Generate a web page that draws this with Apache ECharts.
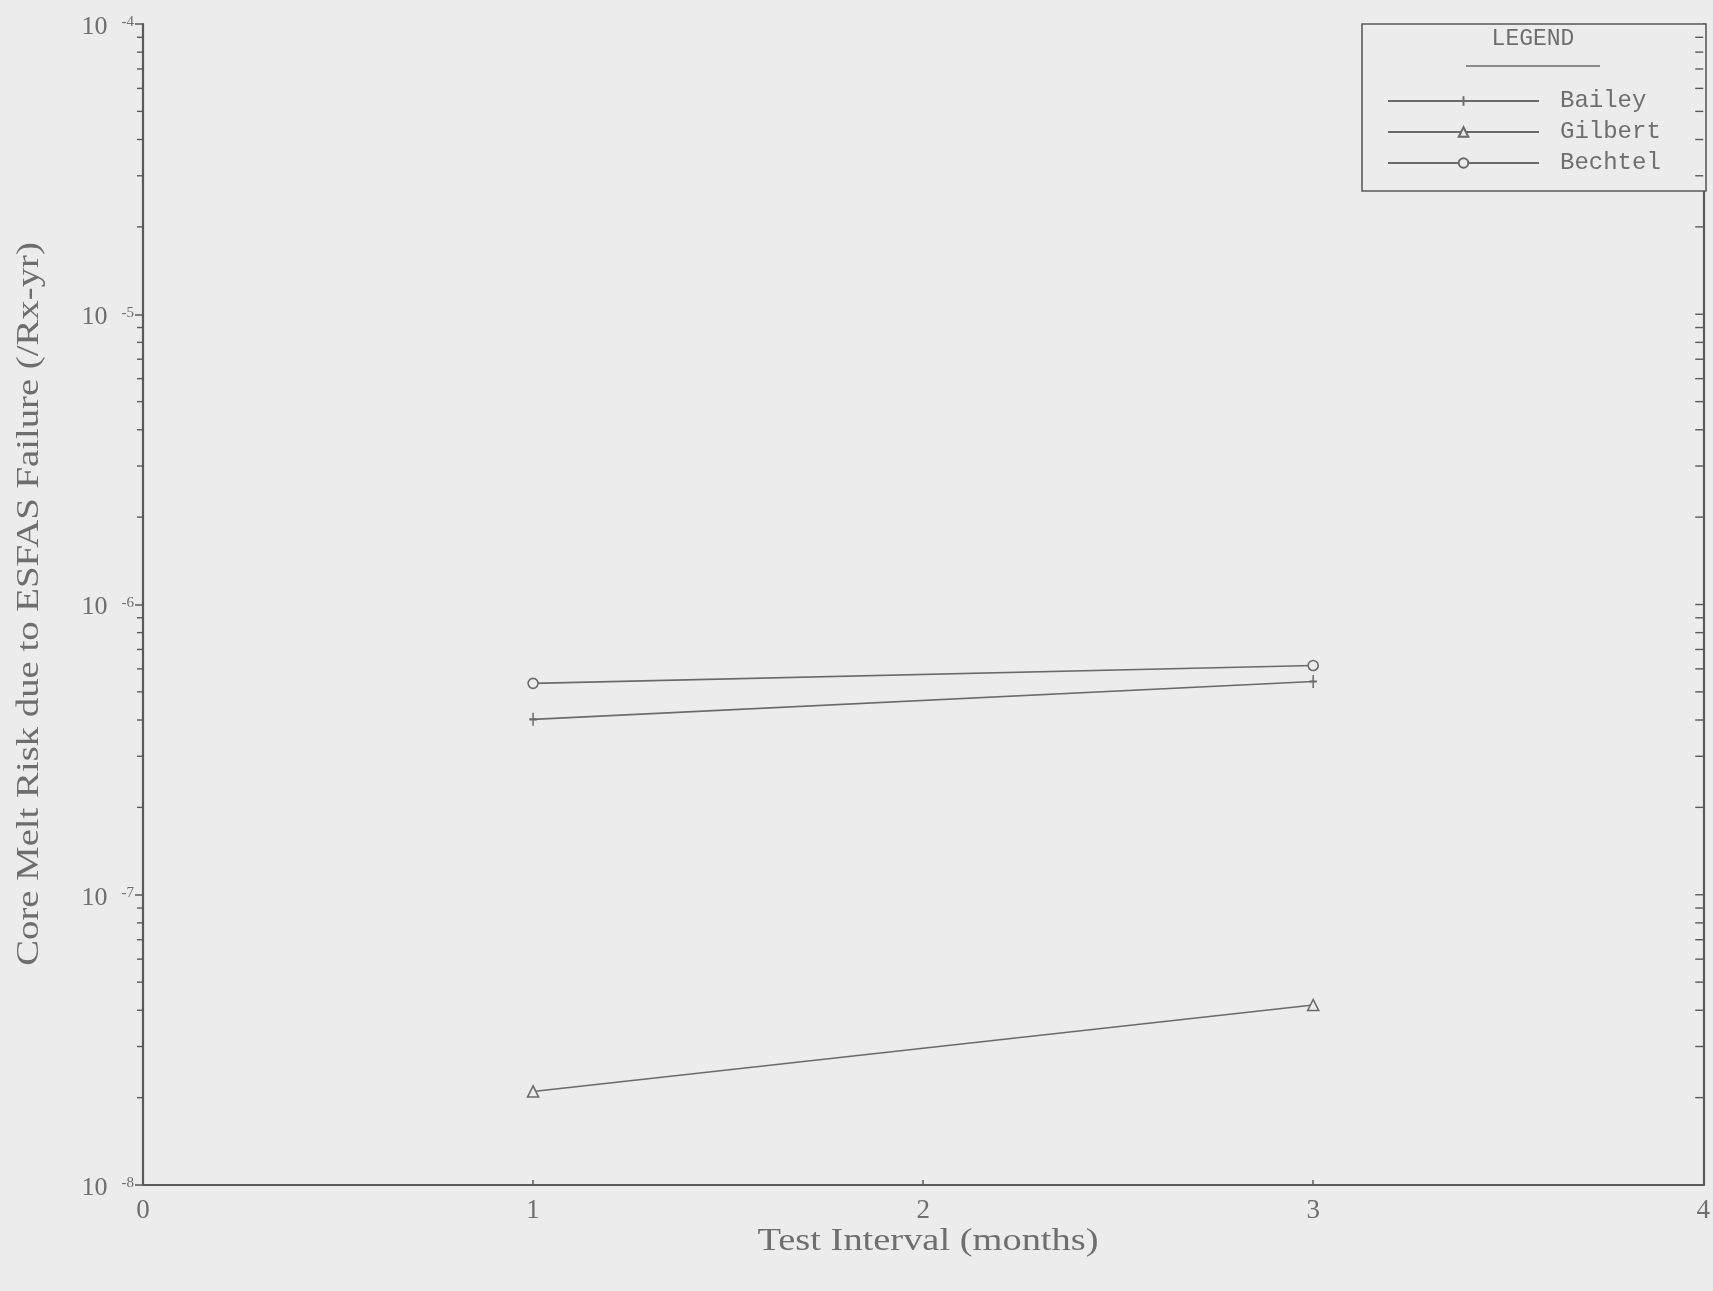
<!DOCTYPE html>
<html>
<head>
<meta charset="utf-8">
<script src="https://cdn.jsdelivr.net/npm/echarts@6/dist/echarts.min.js"></script>
<style>
  html, body { margin: 0; padding: 0; background: #ececec; }
  #chart { width: 1713px; height: 1291px; }
</style>
</head>
<body>
<div id="chart"></div>
<script>
// Test interval (months) and core melt risk per reactor-year
const intervals = [1, 3];
const bailey   = [4.02e-7, 5.43e-7];
const gilbert  = [2.10e-8, 4.17e-8];
const bechtel  = [5.35e-7, 6.16e-7];
const seriesNames = ['Bailey', 'Gilbert', 'Bechtel'];
const xTicks = [0, 1, 2, 3, 4];
const yDecades = [1e-8, 1e-7, 1e-6, 1e-5, 1e-4];
const xTitle = 'Test Interval (months)';
const yTitle = 'Core Melt Risk due to ESFAS Failure (/Rx-yr)';

const BG = '#ececec';
const INK = '#6a6a6a';
const AXIS = '#5a5a5a';
const TEXT = '#6e6e6e';
const SERIF = '"Liberation Serif", "DejaVu Serif", serif';
const MONO = '"Liberation Mono", "DejaVu Sans Mono", monospace';

// minor log ticks (2..9 within each decade), on both vertical edges
const minorTicks = [];
for (let d = 0; d < yDecades.length - 1; d++) {
  for (let k = 2; k <= 9; k++) {
    const v = k * yDecades[d];
    minorTicks.push([0, v]);
    minorTicks.push([4, v]);
  }
}
// right-edge major ticks
for (let d = 1; d < yDecades.length - 1; d++) minorTicks.push([4, yDecades[d], 1]);

function pairs(vals) { return intervals.map((x, i) => [x, vals[i]]); }

const chart = echarts.init(document.getElementById('chart'), null, { renderer: 'canvas' });

const lineBase = {
  type: 'line',
  symbolKeepAspect: true,
  lineStyle: { color: INK, width: 1.6 },
  z: 3
};

chart.setOption({
  backgroundColor: BG,
  animation: false,
  grid: { left: 143, right: 7, top: 24, bottom: 106, containLabel: false },
  xAxis: {
    type: 'value',
    min: 0, max: 4, interval: 1,
    axisLine: { show: true, onZero: false, lineStyle: { color: AXIS, width: 2.2 } },
    axisTick: { show: true, inside: true, length: 5, lineStyle: { color: AXIS, width: 1.5 } },
    axisLabel: {
      margin: 12, fontFamily: SERIF, fontSize: 27, color: TEXT,
      formatter: v => xTicks.indexOf(v) >= 0 ? String(v) : ''
    },
    splitLine: { show: false }
  },
  yAxis: [{
    type: 'log',
    logBase: 10,
    min: 1e-8, max: 1e-4,
    axisLine: { show: true, onZero: false, lineStyle: { color: AXIS, width: 2.2 } },
    axisTick: { show: true, inside: false, length: 8, lineStyle: { color: AXIS, width: 1.5 } },
    axisLabel: {
      margin: 9,
      formatter: v => '{b|10}{s|' + Math.round(Math.log10(v)) + '}',
      rich: {
        b: { fontFamily: SERIF, fontSize: 26, color: TEXT, lineHeight: 26, padding: [6, 14, 0, 0] },
        s: { fontFamily: SERIF, fontSize: 15, color: TEXT, lineHeight: 15, padding: [4, 0, 0, 0], verticalAlign: 'top' }
      }
    },
    splitLine: { show: false }
  }, {
    type: 'log',
    logBase: 10,
    min: 1e-8, max: 1e-4,
    position: 'right',
    axisLine: { show: true, onZero: false, lineStyle: { color: AXIS, width: 2.2 } },
    axisTick: { show: false },
    axisLabel: { show: false },
    splitLine: { show: false }
  }],
  legend: {
    data: seriesNames,
    orient: 'vertical',
    left: 1382,
    top: 84,
    itemWidth: 151,
    itemHeight: 12,
    itemGap: 7,
    textStyle: { fontFamily: MONO, fontSize: 24, color: TEXT, padding: [0, 0, 0, 16], lineHeight: 24 }
  },
  graphic: [
    {
      type: 'rect', z: 1,
      shape: { x: 1362, y: 24, width: 344, height: 167 },
      style: { fill: BG, stroke: AXIS, lineWidth: 1.6 }
    },
    {
      type: 'text', z: 2,
      x: 1533, y: 39,
      style: { text: 'LEGEND', font: '23px ' + MONO, fill: TEXT, align: 'center', verticalAlign: 'middle' }
    },
    {
      type: 'line', z: 2,
      shape: { x1: 1466, y1: 66, x2: 1600, y2: 66 },
      style: { stroke: INK, lineWidth: 1.5 }
    },
    {
      // x-axis title, set in a wide serif
      type: 'text', z: 2,
      x: 928, y: 1242, scaleX: 1.24,
      style: { text: xTitle, font: '31px ' + SERIF, fill: TEXT, align: 'center', verticalAlign: 'middle' }
    },
    {
      // y-axis title, rotated and widened along its length
      type: 'text', z: 2,
      x: 30, y: 604, rotation: Math.PI / 2, scaleX: 1.25,
      style: { text: yTitle, font: '31px ' + SERIF, fill: TEXT, align: 'center', verticalAlign: 'middle' }
    }
  ],
  series: [
    Object.assign({}, lineBase, {
      name: 'Bailey',
      data: pairs(bailey),
      symbol: 'path://M4,0L6,0L6,5L10,5L10,7L6,7L6,12L4,12L4,7L0,7L0,5L4,5Z',
      symbolSize: [9, 13],
      itemStyle: { color: INK }
    }),
    Object.assign({}, lineBase, {
      name: 'Gilbert',
      data: pairs(gilbert),
      symbol: 'triangle',
      symbolSize: 11,
      itemStyle: { color: BG, borderColor: INK, borderWidth: 1.6 }
    }),
    Object.assign({}, lineBase, {
      name: 'Bechtel',
      data: pairs(bechtel),
      symbol: 'circle',
      symbolSize: 10,
      itemStyle: { color: BG, borderColor: INK, borderWidth: 1.6 }
    }),
    {
      type: 'custom',
      name: 'ticks',
      silent: true,
      clip: false,
      z: 4,
      data: minorTicks,
      renderItem: function (params, api) {
        const p = api.coord([api.value(0), api.value(1)]);
        const left = api.value(0) === 0;
        const len = left ? 6 : (api.value(2) === 1 ? 12 : 8);
        return {
          type: 'line',
          shape: { x1: p[0] - len, y1: p[1], x2: p[0], y2: p[1] },
          style: { stroke: AXIS, lineWidth: 1.4 }
        };
      }
    }
  ]
});
</script>
</body>
</html>
